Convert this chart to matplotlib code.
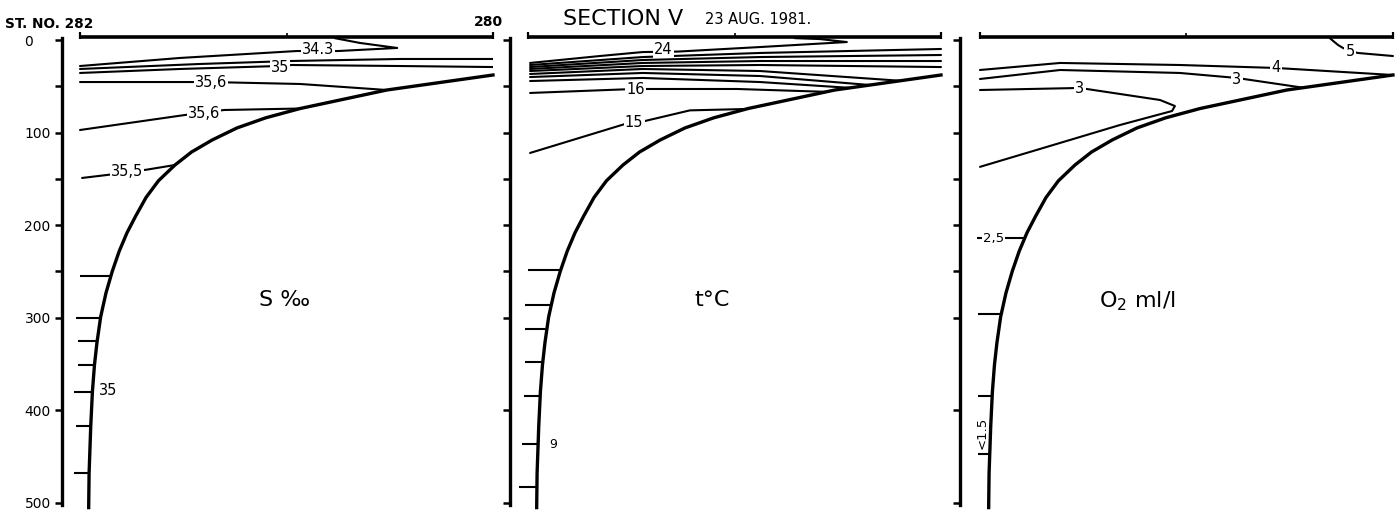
import numpy as np
import matplotlib
matplotlib.use('Agg')
import matplotlib.pyplot as plt

plt.rcParams['font.family'] = ['DejaVu Sans']

# distance along section: station 282 = 0, 281 = 50, 280 = 100 ; depth in m
stations = [0, 50, 100]
station_names = ['282', '281', '280']

# sea bottom (same for all three panels)
bottom_dist = [100, 74.3, 53.3, 45, 38, 32, 27, 23, 19, 16, 13.5, 11.4, 9.5, 7.8,
               6.3, 5, 4.1, 3.5, 3, 2.6, 2.2, 2.1]
bottom_depth = [37.8, 54, 74, 84, 95, 108, 121, 135, 152, 170, 190, 208, 228, 250,
                273, 299, 327, 351, 380, 417, 468, 505]

# salinity isolines
sal_dist = [[0, 24.2, 52.5, 62.5, 76.8, 67.8, 61.7],
            [0, 29, 50.8, 77.5, 100],
            [0, 24.2, 48, 51.3, 77.5, 100],
            [0, 31.7, 53.3, 74.3],
            [0, 25.4, 34.9, 53.3],
            [0.5, 6.5, 16.2, 23]]
sal_depth = [[28.1, 19.4, 11.9, 11.9, 8.6, 3.2, -2],
             [31.3, 25.9, 22.7, 20.5, 20.5],
             [35.6, 31.3, 28.1, 27, 28.1, 29.2],
             [45.4, 45.4, 47.5, 54],
             [97.2, 81, 75.6, 74],
             [149, 145.8, 140, 135]]
sal_labels = ['34.3', '35', '35,6', '35,6', '35,5']
sal_label_dist = [57.6, 48.4, 31.7, 30, 11.4]
sal_label_depth = [10.8, 29.5, 46, 79, 142.5]
sal_sample_depth = [255, 300, 325, 351, 380, 417, 468]
sal_sample_start = [0, -1, -0.5, -0.5, -1.5, -1, -1.5]
sal_deep_label = ('35', 6.8, 378)

# temperature isolines (24 ... 15 deg C)
temp_dist = [[0.5, 17.4, 27.8, 36.3, 56.2, 77.2, 70.7, 64.6],
             [0.5, 27.8, 56.2, 100],
             [0.5, 27.8, 56.2, 100],
             [0.5, 27.8, 56.2, 100],
             [0.5, 27.8, 56.2, 100],
             [0.5, 27.8, 56.2, 90.1],
             [0.5, 27.8, 56.2, 82.8],
             [0.5, 27.8, 56.2, 78],
             [0.5, 25.7, 50.6, 72.4],
             [0.5, 23.5, 28.3, 39.2, 53]]
temp_depth = [[24.8, 17.3, 13, 12.5, 7.6, 2.2, -1, -2],
              [27, 18.4, 14, 9.7],
              [29.2, 21.6, 18.4, 16.2],
              [31.3, 24.8, 22.7, 22.7],
              [33.5, 28.1, 27, 29.2],
              [36.7, 31.3, 33.5, 44],
              [40, 35.6, 38.9, 48.6],
              [44.3, 41, 45.4, 51.7],
              [57.2, 52.9, 52.9, 56],
              [122, 90.7, 87.5, 76, 74.5]]
temp_labels = ['24', '16', '15']
temp_label_dist = [32.7, 26, 25.7]
temp_label_depth = [10, 53, 89.5]
temp_sample_depth = [248, 286, 312, 348, 384, 436, 483]
temp_sample_start = [0, -0.7, -0.7, -0.7, -1, -1.5, -2.2]
temp_deep_label = ('9', 6.1, 437)

# oxygen isolines
oxy_dist = [[84.7, 86.7, 87.9, 89.6, 91.5, 100],
            [0, 19.4, 48.4, 71.7, 100],
            [0, 19.4, 48.4, 62.2, 78.2],
            [0, 24.2, 43.6, 47.2, 46.5, 33.9, 16.9, 0]]
oxy_depth = [[-2, 5.4, 8.6, 11.9, 14, 17.3],
             [32.4, 24.8, 27, 30.2, 37.8],
             [42.1, 32.4, 35.6, 41, 51.5],
             [54, 51.8, 64.8, 71.3, 76.7, 91.8, 114.5, 137]]
oxy_labels = ['5', '4', '3', '3']
oxy_label_dist = [89.6, 71.7, 62.2, 24.2]
oxy_label_depth = [11.9, 30, 42.5, 52]
oxy_sample_depth = [214, 296, 385, 447]
oxy_sample_start = [-0.7, -0.5, -0.5, -0.5]

depth_ticks = [0, 100, 200, 300, 400, 500]
depth_minor = [50, 150, 250]


def draw_panel(ax, xlim, line_dist, line_depth, labels, label_dist, label_depth,
               sample_depth, sample_start, title, title_pos):
    ax.set_xlim(*xlim)
    ax.set_ylim(502.2, -3.24)
    ax.patch.set_alpha(0)
    for side in ['top', 'right', 'bottom']:
        ax.spines[side].set_visible(False)
    ax.spines['left'].set_linewidth(2.4)
    ax.spines['left'].set_bounds(-2, 502)
    ax.set_xticks([])
    ax.set_yticks(depth_ticks)
    ax.set_yticks(depth_minor, minor=True)
    ax.tick_params(axis='y', which='both', direction='out', length=5, width=1.8)

    for xs, ds in zip(line_dist, line_depth):
        ax.plot(xs, ds, color='black', lw=1.5, solid_capstyle='round', zorder=2)
    for txt, x, d in zip(labels, label_dist, label_depth):
        ax.text(x, d, txt, fontsize=10.5, ha='center', va='center', zorder=5,
                bbox=dict(boxstyle='square,pad=0.08', fc='white', ec='none'))

    ax.plot(bottom_dist, bottom_depth, color='black', lw=2.4, zorder=3,
            solid_joinstyle='round', clip_on=False)
    ends = np.interp(sample_depth, bottom_depth, bottom_dist)
    ax.hlines(sample_depth, sample_start, ends, color='black', lw=1.5, zorder=2)

    # station line on top
    ax.hlines(-3, stations[0], stations[-1], color='black', lw=2.6, clip_on=False)
    ax.vlines([stations[0], stations[-1]], -9, -1, color='black', lw=1.6, clip_on=False)
    ax.vlines(stations[1], -8, -3, color='black', lw=1.2, clip_on=False)

    ax.text(title_pos[0], title_pos[1], title, fontsize=16, ha='center', va='center')


fig = plt.figure(figsize=(14, 5.14), dpi=100)
W, H = 1400, 514
ax1 = fig.add_axes([62 / W, 9 / H, 431 / W, 468 / H])
ax2 = fig.add_axes([510 / W, 9 / H, 450 / W, 468 / H])
ax3 = fig.add_axes([960 / W, 9 / H, 440 / W, 468 / H])

draw_panel(ax1, (-4.36, 100), sal_dist, sal_depth, sal_labels, sal_label_dist,
           sal_label_depth, sal_sample_depth, sal_sample_start, 'S ‰', (49.6, 281))
draw_panel(ax2, (-4.36, 104.6), temp_dist, temp_depth, temp_labels, temp_label_dist,
           temp_label_depth, temp_sample_depth, temp_sample_start, 't°C', (44.6, 281))
draw_panel(ax3, (-4.84, 101.7), oxy_dist, oxy_depth, oxy_labels, oxy_label_dist,
           oxy_label_depth, oxy_sample_depth, oxy_sample_start, r'O$_2$ ml/l', (38, 282))

# depth labels only on the first panel, left aligned like the original
ax1.set_yticklabels([str(t) for t in depth_ticks], fontsize=10)
ax1.tick_params(axis='y', which='major', pad=22)
for lab in ax1.get_yticklabels():
    lab.set_ha('left')
ax2.set_yticklabels([])
ax3.set_yticklabels([])

ax1.text(sal_deep_label[1], sal_deep_label[2], sal_deep_label[0], fontsize=10.5, ha='center', va='center')
ax2.text(temp_deep_label[1], temp_deep_label[2], temp_deep_label[0], fontsize=9, ha='center', va='center')
ax3.text(3.3, oxy_sample_depth[0], '2,5', fontsize=9.5, ha='center', va='center', zorder=5,
         bbox=dict(boxstyle='square,pad=0.05', fc='white', ec='none'))
ax3.text(0.5, 424, '<1.5', fontsize=9.5, rotation=90, ha='center', va='center')

ax1.text(3.1, -17.5, 'ST. NO. ' + station_names[0], fontsize=9.8, fontweight='bold',
         ha='right', va='center', clip_on=False)
ax1.text(stations[-1] - 1, -19.5, station_names[-1], fontsize=10, fontweight='bold',
         ha='center', va='center', clip_on=False)

fig.text(563 / W, 1 - 25 / H, 'SECTION V', fontsize=16, ha='left', va='baseline')
fig.text(705 / W, 1 - 24 / H, '23 AUG. 1981.', fontsize=10.5, ha='left', va='baseline')

fig.savefig('out.png', dpi=100)
